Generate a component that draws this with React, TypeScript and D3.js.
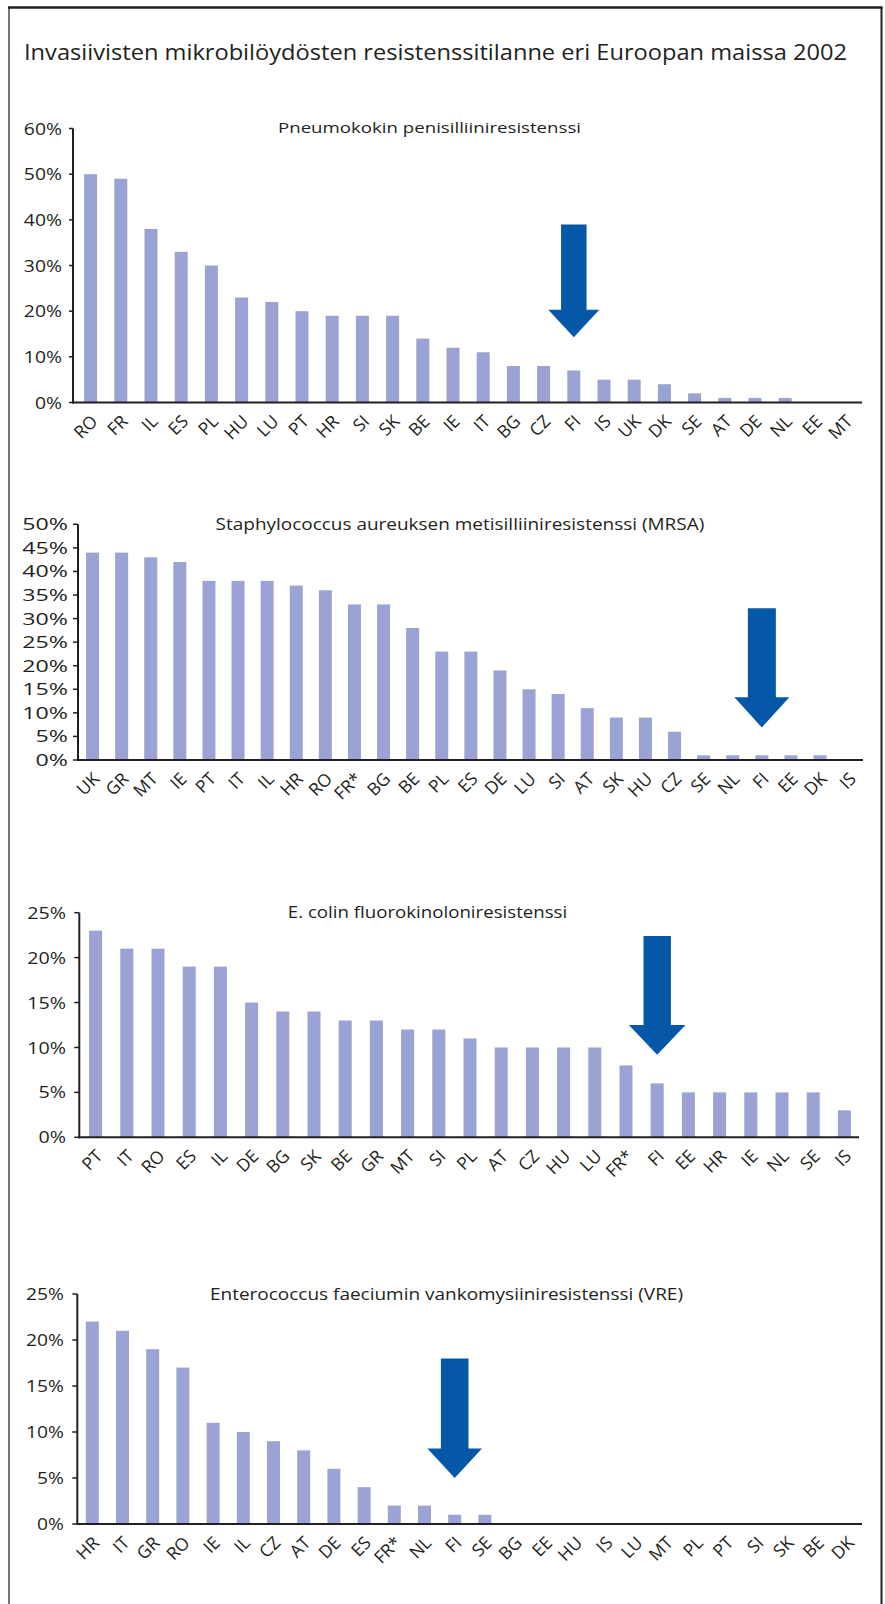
import React, { useEffect, useRef } from "react";
import * as d3 from "d3";

// ---------- DATA ----------
const mainTitle = "Invasiivisten mikrobilöydösten resistenssitilanne eri Euroopan maissa 2002";

const pneumoTitle = "Pneumokokin penisilliiniresistenssi";
const pneumoCountries = ["RO","FR","IL","ES","PL","HU","LU","PT","HR","SI","SK","BE","IE","IT","BG","CZ","FI","IS","UK","DK","SE","AT","DE","NL","EE","MT"];
const pneumoValues = [50,49,38,33,30,23,22,20,19,19,19,14,12,11,8,8,7,5,5,4,2,1,1,1,0,0];
const pneumoTicks = [0,10,20,30,40,50,60];

const mrsaTitle = "Staphylococcus aureuksen metisilliiniresistenssi (MRSA)";
const mrsaCountries = ["UK","GR","MT","IE","PT","IT","IL","HR","RO","FR*","BG","BE","PL","ES","DE","LU","SI","AT","SK","HU","CZ","SE","NL","FI","EE","DK","IS"];
const mrsaValues = [44,44,43,42,38,38,38,37,36,33,33,28,23,23,19,15,14,11,9,9,6,1,1,1,1,1,0];
const mrsaTicks = [0,5,10,15,20,25,30,35,40,45,50];

const ecoliTitle = "E. colin fluorokinoloniresistenssi";
const ecoliCountries = ["PT","IT","RO","ES","IL","DE","BG","SK","BE","GR","MT","SI","PL","AT","CZ","HU","LU","FR*","FI","EE","HR","IE","NL","SE","IS"];
const ecoliValues = [23,21,21,19,19,15,14,14,13,13,12,12,11,10,10,10,10,8,6,5,5,5,5,5,3];
const ecoliTicks = [0,5,10,15,20,25];

const vreTitle = "Enterococcus faeciumin vankomysiiniresistenssi (VRE)";
const vreCountries = ["HR","IT","GR","RO","IE","IL","CZ","AT","DE","ES","FR*","NL","FI","SE","BG","EE","HU","IS","LU","MT","PL","PT","SI","SK","BE","DK"];
const vreValues = [22,21,19,17,11,10,9,8,6,4,2,2,1,1,0,0,0,0,0,0,0,0,0,0,0,0];
const vreTicks = [0,5,10,15,20,25];

// arrow annotations (values in %): pointing at Finland
const pneumoArrow = { country: "FI", top: 39, headTop: 20.3, tip: 14.3 };
const mrsaArrow = { country: "FI", top: 32.2, headTop: 13.3, tip: 6.9 };
const ecoliArrow = { country: "FI", top: 22.4, headTop: 12.5, tip: 9.2 };
const vreArrow = { country: "FI", top: 18.0, headTop: 8.2, tip: 5.0 };

// ---------- STYLE / LAYOUT ----------
const W = 885;
const H = 1604;
const BAR = "#9ba3d4";
const ARROW = "#0558a8";
const INK = "#231f20";
const FONT = "'Open Sans', sans-serif";

type Panel = {
  title: string;
  countries: string[];
  values: number[];
  ticks: number[];
  arrow: { country: string; top: number; headTop: number; tip: number };
  layout: {
    base: number; top: number; axisX: number; bandStart: number; bandEnd: number; axisEnd: number;
    tickLen: number; labelEnd: number; tickFont: number; sx: number;
    titleX0: number; titleX1: number; titleY: number; titleFont: number;
    shaftW: number; headW: number; xFont: number;
  };
};

const panels: Panel[] = [
  {
    title: pneumoTitle, countries: pneumoCountries, values: pneumoValues, ticks: pneumoTicks, arrow: pneumoArrow,
    layout: { base: 402.5, top: 128.5, axisX: 73, bandStart: 75.5, bandEnd: 860.7, axisEnd: 862, tickLen: 4, labelEnd: 62, tickFont: 16, sx: 1.21,
      titleX0: 278, titleX1: 581, titleY: 132.5, titleFont: 14.5, shaftW: 25.5, headW: 51, xFont: 17.5 },
  },
  {
    title: mrsaTitle, countries: mrsaCountries, values: mrsaValues, ticks: mrsaTicks, arrow: mrsaArrow,
    layout: { base: 760, top: 524.3, axisX: 78, bandStart: 78, bandEnd: 863.7, axisEnd: 863, tickLen: 5, labelEnd: 68, tickFont: 16, sx: 1.45,
      titleX0: 215.6, titleX1: 704.3, titleY: 530, titleFont: 17, shaftW: 28, headW: 55, xFont: 17.5 },
  },
  {
    title: ecoliTitle, countries: ecoliCountries, values: ecoliValues, ticks: ecoliTicks, arrow: ecoliArrow,
    layout: { base: 1137.3, top: 912.7, axisX: 79.3, bandStart: 80, bandEnd: 860, axisEnd: 859, tickLen: 5, labelEnd: 66, tickFont: 15.4, sx: 1.28,
      titleX0: 287.8, titleX1: 567.2, titleY: 917.7, titleFont: 16, shaftW: 27.4, headW: 56.7, xFont: 17.5 },
  },
  {
    title: vreTitle, countries: vreCountries, values: vreValues, ticks: vreTicks, arrow: vreArrow,
    layout: { base: 1524, top: 1294, axisX: 77.3, bandStart: 77.2, bandEnd: 862.4, axisEnd: 862, tickLen: 5, labelEnd: 64, tickFont: 15.4, sx: 1.25,
      titleX0: 210, titleX1: 683, titleY: 1300, titleFont: 17, shaftW: 27.6, headW: 54.6, xFont: 17.5 },
  },
];

function drawPanel(root: d3.Selection<SVGGElement, unknown, null, undefined>, p: Panel) {
  const L = p.layout;
  const g = root.append("g");
  const maxTick = p.ticks[p.ticks.length - 1];
  const y = d3.scaleLinear().domain([0, maxTick]).range([L.base, L.top]);
  const x = d3.scaleBand<string>().domain(p.countries).range([L.bandStart, L.bandEnd]).padding(0);
  const bw = 13;
  const cx = (c: string) => (x(c) as number) + x.bandwidth() / 2;

  g.append("text")
    .attr("x", L.titleX0)
    .attr("y", L.titleY)
    .attr("font-family", FONT)
    .attr("font-size", L.titleFont)
    .attr("fill", INK)
    .attr("textLength", L.titleX1 - L.titleX0)
    .attr("lengthAdjust", "spacingAndGlyphs")
    .text(p.title);

  g.selectAll("rect.bar")
    .data(p.countries.map((c, i) => ({ c, v: p.values[i] })))
    .join("rect")
    .attr("class", "bar")
    .attr("x", (d) => cx(d.c) - bw / 2)
    .attr("y", (d) => y(d.v))
    .attr("width", bw)
    .attr("height", (d) => L.base - y(d.v))
    .attr("fill", BAR);

  // y axis
  g.append("line")
    .attr("x1", L.axisX).attr("x2", L.axisX)
    .attr("y1", y(maxTick)).attr("y2", L.base + 1)
    .attr("stroke", INK).attr("stroke-width", 2);
  const tk = g.selectAll("g.tick").data(p.ticks).join("g").attr("class", "tick");
  tk.append("line")
    .attr("x1", L.axisX - L.tickLen).attr("x2", L.axisX)
    .attr("y1", (t) => y(t)).attr("y2", (t) => y(t))
    .attr("stroke", INK).attr("stroke-width", 1.5);
  tk.append("text")
    .attr("transform", (t) => `translate(${L.labelEnd},${y(t)}) scale(${L.sx},1)`)
    .attr("text-anchor", "end")
    .attr("dominant-baseline", "central")
    .attr("font-family", FONT)
    .attr("font-size", L.tickFont)
    .attr("fill", INK)
    .text((t) => t + "%");

  // x axis
  g.append("line")
    .attr("x1", L.axisX - 1).attr("x2", L.axisEnd)
    .attr("y1", L.base).attr("y2", L.base)
    .attr("stroke", INK).attr("stroke-width", 2);

  g.selectAll("g.xl")
    .data(p.countries)
    .join("g")
    .attr("class", "xl")
    .attr("transform", (c) => `translate(${cx(c) + 8},${L.base + 20}) rotate(-45)`)
    .append("text")
    .attr("text-anchor", "end")
    .attr("font-family", FONT)
    .attr("font-size", L.xFont)
    .attr("fill", INK)
    .text((c) => c);

  // arrow
  const a = p.arrow;
  const ax = cx(a.country);
  const ap = d3.path();
  ap.moveTo(ax - L.shaftW / 2, y(a.top));
  ap.lineTo(ax + L.shaftW / 2, y(a.top));
  ap.lineTo(ax + L.shaftW / 2, y(a.headTop));
  ap.lineTo(ax + L.headW / 2, y(a.headTop));
  ap.lineTo(ax, y(a.tip));
  ap.lineTo(ax - L.headW / 2, y(a.headTop));
  ap.lineTo(ax - L.shaftW / 2, y(a.headTop));
  ap.closePath();
  g.append("path").attr("d", ap.toString()).attr("fill", ARROW);
}

export default function App() {
  const ref = useRef<SVGGElement | null>(null);
  useEffect(() => {
    if (!ref.current) return;
    const root = d3.select(ref.current);
    root.selectAll("*").remove();
    panels.forEach((p) => drawPanel(root as any, p));
  }, []);
  return (
    <svg
      width={W}
      height={H}
      viewBox={`0 0 ${W} ${H}`}
      style={{ position: "absolute", left: 0, top: 0, background: "#fff" }}
    >
      <rect x={0} y={0} width={W} height={H} fill="#fff" />
      {/* frame */}
      <line x1={9} x2={9} y1={7} y2={H} stroke="#555" strokeWidth={1.6} />
      <line x1={881.5} x2={881.5} y1={7} y2={H} stroke={INK} strokeWidth={2} />
      <line x1={8} x2={882.5} y1={7.5} y2={7.5} stroke={INK} strokeWidth={2.6} />
      <text x={24} y={60} fontFamily={FONT} fontSize={22} fill={INK} textLength={823} lengthAdjust="spacingAndGlyphs">
        {mainTitle}
      </text>
      <g ref={ref} />
    </svg>
  );
}
